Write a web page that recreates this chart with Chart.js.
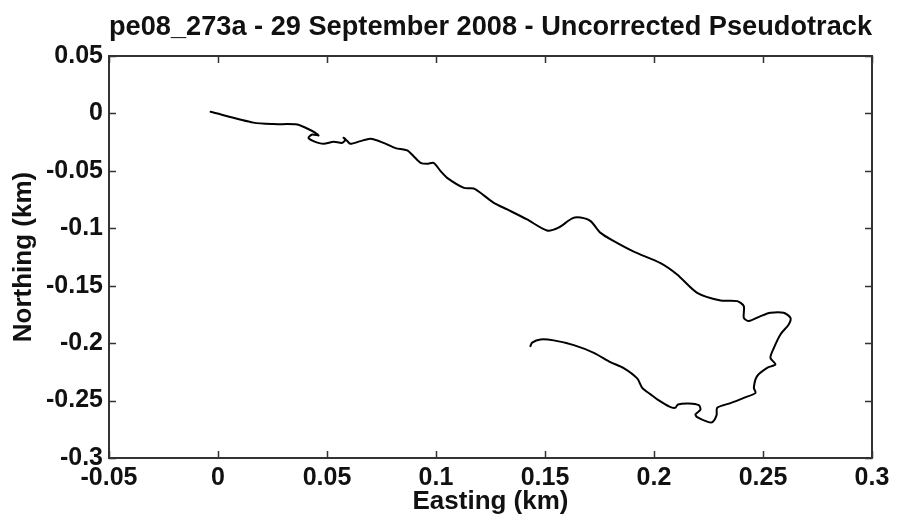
<!DOCTYPE html>
<html>
<head>
<meta charset="utf-8">
<script src="https://cdn.jsdelivr.net/npm/chart.js@4.4.1/dist/chart.umd.min.js"></script>
<style>
  html, body { margin: 0; padding: 0; background: #fff; }
  #c { display: block; }
</style>
</head>
<body>
<canvas id="c" width="898" height="528"></canvas>
<script>
// ---- Data (km) ----
const eastingKm = [
  -0.0034, 0.0163, 0.0255, 0.0363, 0.0409, 0.0447, 0.0461, 0.0432, 0.0415, 0.0438,
  0.0484, 0.0530, 0.0570, 0.0585, 0.0576, 0.0593, 0.0608, 0.0654, 0.0700, 0.0759,
  0.0814, 0.0868, 0.0897, 0.0929, 0.0960, 0.0989, 0.1021, 0.1051, 0.1128, 0.1173,
  0.1204, 0.1265, 0.1327, 0.1418, 0.1509, 0.1562, 0.1625, 0.1663, 0.1709, 0.1755,
  0.1816, 0.1907, 0.2030, 0.2106, 0.2198, 0.2305, 0.2382, 0.2412, 0.2412, 0.2435,
  0.2489, 0.2534, 0.2595, 0.2626, 0.2618, 0.2580, 0.2550, 0.2534, 0.2557, 0.2519,
  0.2473, 0.2458, 0.2466, 0.2412, 0.2351, 0.2290, 0.2287, 0.2268, 0.2244, 0.2198,
  0.2190, 0.2213, 0.2206, 0.2160, 0.2110, 0.2097, 0.2071, 0.2015, 0.1984, 0.1946,
  0.1923, 0.1861, 0.1800, 0.1724, 0.1632, 0.1540, 0.1479, 0.1441, 0.1433
];
const northingKm = [
  0.0014, -0.0080, -0.0093, -0.0096, -0.0131, -0.0169, -0.0192, -0.0183, -0.0212, -0.0241,
  -0.0265, -0.0247, -0.0256, -0.0226, -0.0212, -0.0241, -0.0265, -0.0241, -0.0221, -0.0256,
  -0.0302, -0.0322, -0.0372, -0.0430, -0.0439, -0.0430, -0.0502, -0.0561, -0.0648, -0.0653,
  -0.0691, -0.0778, -0.0836, -0.0923, -0.1019, -0.0994, -0.0914, -0.0907, -0.0938, -0.1040,
  -0.1112, -0.1203, -0.1303, -0.1402, -0.1562, -0.1628, -0.1634, -0.1678, -0.1780, -0.1808,
  -0.1765, -0.1736, -0.1736, -0.1780, -0.1837, -0.1924, -0.2041, -0.2128, -0.2185, -0.2215,
  -0.2287, -0.2389, -0.2433, -0.2476, -0.2522, -0.2563, -0.2627, -0.2688, -0.2683, -0.2644,
  -0.2621, -0.2579, -0.2540, -0.2525, -0.2534, -0.2563, -0.2553, -0.2490, -0.2446, -0.2389,
  -0.2307, -0.2217, -0.2165, -0.2084, -0.2017, -0.1976, -0.1968, -0.1995, -0.2026
];
const xTickValues = [-0.05, 0, 0.05, 0.1, 0.15, 0.2, 0.25, 0.3];
const xTickLabels = ['-0.05', '0', '0.05', '0.1', '0.15', '0.2', '0.25', '0.3'];
const yTickValues = [0.05, 0, -0.05, -0.1, -0.15, -0.2, -0.25, -0.3];
const yTickLabels = ['0.05', '0', '-0.05', '-0.1', '-0.15', '-0.2', '-0.25', '-0.3'];
const chartTitle = 'pe08_273a - 29 September 2008 - Uncorrected Pseudotrack';
const xTitle = 'Easting (km)';
const yTitle = 'Northing (km)';

// ---- Styling ----
const FONT = 'Liberation Sans, Arial, Helvetica, sans-serif';
const TEXT = '#111';
const AXIS = '#333';

function labelFor(values, labels, v) {
  for (let i = 0; i < values.length; i++) {
    if (Math.abs(values[i] - v) < 1e-9) return labels[i];
  }
  return '';
}

// Matlab-style box with inward ticks on all four sides
const boxPlugin = {
  id: 'matlabBox',
  afterDatasetsDraw(chart) {
    const { ctx, chartArea: a, scales } = chart;
    const tl = 7;
    ctx.save();
    ctx.strokeStyle = AXIS;
    ctx.lineWidth = 2;
    ctx.strokeRect(a.left, a.top, a.right - a.left, a.bottom - a.top);
    ctx.lineWidth = 1.5;
    ctx.beginPath();
    scales.x.ticks.forEach(t => {
      const px = Math.round(scales.x.getPixelForValue(t.value)) + 0.5;
      ctx.moveTo(px, a.bottom); ctx.lineTo(px, a.bottom - tl);
      ctx.moveTo(px, a.top); ctx.lineTo(px, a.top + tl);
    });
    scales.y.ticks.forEach(t => {
      const py = Math.round(scales.y.getPixelForValue(t.value)) + 0.5;
      ctx.moveTo(a.left, py); ctx.lineTo(a.left + tl, py);
      ctx.moveTo(a.right, py); ctx.lineTo(a.right - tl, py);
    });
    ctx.stroke();
    ctx.restore();
  }
};

const points = eastingKm.map((e, i) => ({ x: e, y: northingKm[i] }));

new Chart(document.getElementById('c'), {
  type: 'scatter',
  data: {
    datasets: [{
      data: points,
      showLine: true,
      pointRadius: 0,
      borderColor: '#000',
      borderWidth: 2,
      borderJoinStyle: 'round',
      borderCapStyle: 'round',
      tension: 0.25,
      fill: false
    }]
  },
  options: {
    responsive: false,
    animation: false,
    devicePixelRatio: 1,
    layout: { padding: { left: 0, right: 26, top: 0, bottom: 0 } },
    plugins: {
      legend: { display: false },
      tooltip: { enabled: false },
      title: {
        display: true,
        text: chartTitle,
        fullSize: false,
        color: TEXT,
        font: { family: FONT, size: 27.5, weight: 'bold', lineHeight: 1.2 },
        padding: { top: 11, bottom: 12 }
      }
    },
    scales: {
      x: {
        type: 'linear',
        min: -0.05,
        max: 0.3,
        afterBuildTicks: s => { s.ticks = xTickValues.map(v => ({ value: v })); },
        afterFit: s => { s.height = 70; },
        grid: { display: false, drawTicks: false },
        border: { display: false },
        ticks: {
          autoSkip: false,
          maxRotation: 0,
          padding: 5,
          color: TEXT,
          font: { family: FONT, size: 25, weight: 'bold' },
          callback: v => labelFor(xTickValues, xTickLabels, v)
        },
        title: {
          display: true,
          text: xTitle,
          color: TEXT,
          font: { family: FONT, size: 26, weight: 'bold', lineHeight: 1.2 },
          padding: { top: 0, bottom: 11 }
        }
      },
      y: {
        type: 'linear',
        min: -0.3,
        max: 0.05,
        afterBuildTicks: s => { s.ticks = yTickValues.map(v => ({ value: v })); },
        afterFit: s => { s.width = 109; },
        grid: { display: false, drawTicks: false },
        border: { display: false },
        ticks: {
          autoSkip: false,
          padding: 6,
          color: TEXT,
          font: { family: FONT, size: 25, weight: 'bold' },
          callback: v => labelFor(yTickValues, yTickLabels, v)
        },
        title: {
          display: true,
          text: yTitle,
          color: TEXT,
          font: { family: FONT, size: 26, weight: 'bold', lineHeight: 1.2 },
          padding: { top: 8, bottom: 0 }
        }
      }
    }
  },
  plugins: [boxPlugin]
});
</script>
</body>
</html>
